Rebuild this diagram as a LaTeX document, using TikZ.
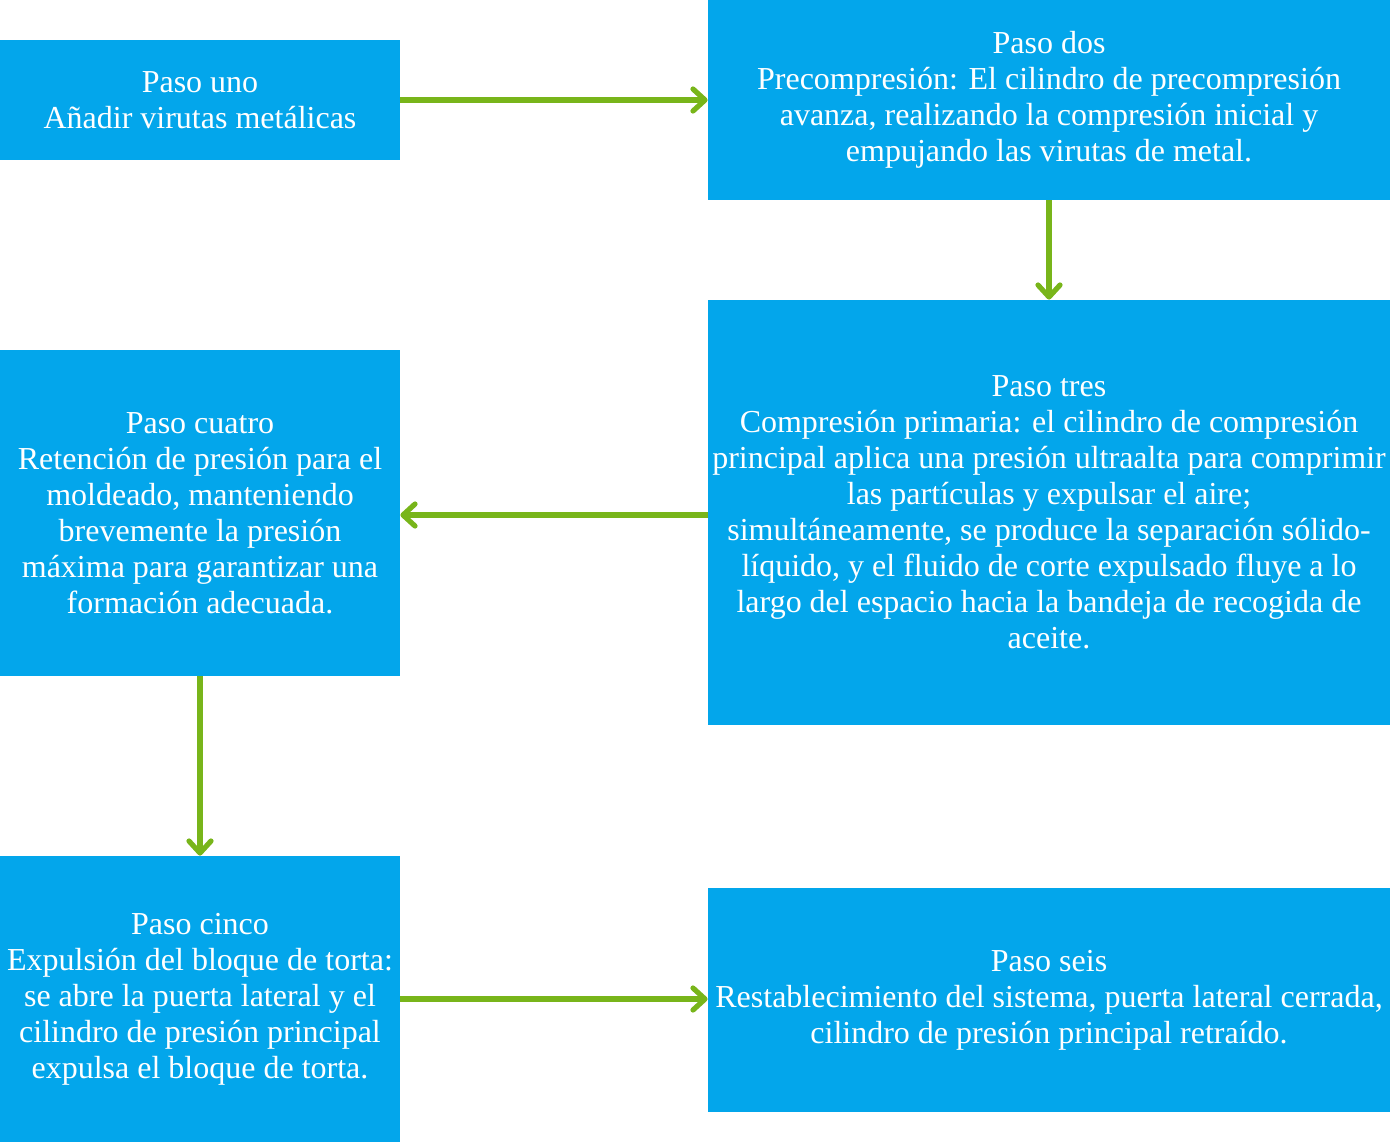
\documentclass[tikz,border=0pt]{standalone}
\usepackage{fontspec}
\setmainfont{Liberation Serif}
\usetikzlibrary{arrows.meta}
\definecolor{boxblue}{HTML}{03A6EB}
\definecolor{arrgreen}{HTML}{78B51A}
\begin{document}
\begin{tikzpicture}[x=0.5pt,y=-0.5pt,
  stepbox/.style={fill=boxblue,draw=none,inner sep=0pt,text=white,align=center,
    font=\fontsize{16}{18}\selectfont},
  conn/.style={draw=arrgreen,line width=2.6pt,
    -{Straight Barb[length=6pt,width=11pt,line cap=round,line join=round]}}]
\useasboundingbox (0,0) rectangle (1390,1142);
\node[stepbox,minimum width=200pt,minimum height=60pt] (uno) at (200,100)
  {Paso uno\\Añadir virutas metálicas};
\node[stepbox,minimum width=341pt,minimum height=100pt] (dos) at (1049,100)
  {Paso dos\\Precompresión: El cilindro de precompresión\\avanza, realizando la compresión inicial y\\empujando las virutas de metal.};
\node[stepbox,minimum width=341pt,minimum height=212.5pt] (tres) at (1049,512.5)
  {Paso tres\\Compresión primaria: el cilindro de compresión\\principal aplica una presión ultraalta para comprimir\\las partículas y expulsar el aire;\\simultáneamente, se produce la separación sólido-\\líquido, y el fluido de corte expulsado fluye a lo\\largo del espacio hacia la bandeja de recogida de\\aceite.};
\node[stepbox,minimum width=200pt,minimum height=163pt] (cuatro) at (200,513)
  {Paso cuatro\\Retención de presión para el\\moldeado, manteniendo\\brevemente la presión\\máxima para garantizar una\\formación adecuada.};
\node[stepbox,minimum width=200pt,minimum height=143pt] (cinco) at (200,999)
  {Paso cinco\\Expulsión del bloque de torta:\\se abre la puerta lateral y el\\cilindro de presión principal\\expulsa el bloque de torta.};
\node[stepbox,minimum width=341pt,minimum height=112pt] (seis) at (1049,1000)
  {Paso seis\\Restablecimiento del sistema, puerta lateral cerrada,\\cilindro de presión principal retraído.};
\draw[conn] (uno.east) -- (uno.east -| dos.west);
\draw[conn] (dos.south) -- (tres.north);
\draw[conn] ([yshift=-1.25pt]tres.west) -- ([yshift=-1.25pt]tres.west -| cuatro.east);
\draw[conn] (cuatro.south) -- (cinco.north);
\draw[conn] (cinco.east) -- (cinco.east -| seis.west);
\end{tikzpicture}
\end{document}
